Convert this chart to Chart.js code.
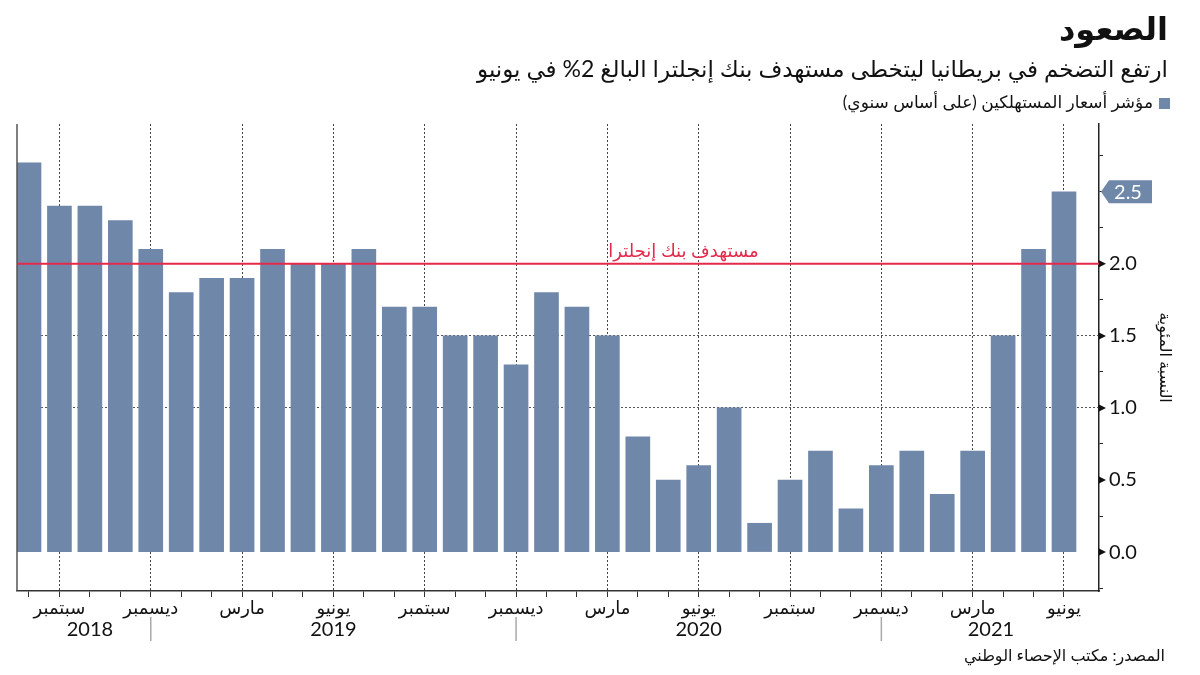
<!DOCTYPE html>
<html lang="ar">
<head>
<meta charset="utf-8">
<script src="https://cdn.jsdelivr.net/npm/chart.js@4.4.1/dist/chart.umd.min.js"></script>
<style>
  body { margin: 0; background: #fff; }
  .wrap { position: relative; width: 1200px; height: 675px; font-family: Lato, "DejaVu Sans", sans-serif; color: #111; }
  canvas { position: absolute; left: 0; top: 0; }
  .txt { position: absolute; direction: rtl; white-space: nowrap; }
  .title { right: 32px; top: 8px; font-size: 32px; font-weight: bold; }
  .subtitle { right: 32px; top: 54px; font-size: 23px; }
  .legend { right: 47px; top: 91px; font-size: 17px; }
  .swatch { position: absolute; right: 30px; top: 98px; width: 11px; height: 11px; background: #6f87a9; }
  .source { right: 35px; top: 645px; font-size: 16px; }
</style>
</head>
<body>
<div class="wrap">
  <canvas id="cpiChart" width="1200" height="675"></canvas>
  <div class="txt title">الصعود</div>
  <div class="txt subtitle">ارتفع التضخم في بريطانيا ليتخطى مستهدف بنك إنجلترا البالغ 2% في يونيو</div>
  <div class="swatch"></div>
  <div class="txt legend">مؤشر أسعار المستهلكين (على أساس سنوي)</div>
  <div class="txt source">المصدر: مكتب الإحصاء الوطني</div>
</div>
<script>
// months, Aug 2018 .. Jun 2021
const months = [
  "2018-08", "2018-09", "2018-10", "2018-11", "2018-12",
  "2019-01", "2019-02", "2019-03", "2019-04", "2019-05", "2019-06",
  "2019-07", "2019-08", "2019-09", "2019-10", "2019-11", "2019-12",
  "2020-01", "2020-02", "2020-03", "2020-04", "2020-05", "2020-06",
  "2020-07", "2020-08", "2020-09", "2020-10", "2020-11", "2020-12",
  "2021-01", "2021-02", "2021-03", "2021-04", "2021-05", "2021-06",
];
const cpi = [
  2.7, 2.4, 2.4, 2.3, 2.1,
  1.8, 1.9, 1.9, 2.1, 2.0, 2.0,
  2.1, 1.7, 1.7, 1.5, 1.5, 1.3,
  1.8, 1.7, 1.5, 0.8, 0.5, 0.6,
  1.0, 0.2, 0.5, 0.7, 0.3, 0.6,
  0.7, 0.4, 0.7, 1.5, 2.1, 2.5,
];
const quarterNames = { "03": "مارس", "06": "يونيو", "09": "سبتمبر", "12": "ديسمبر" };
const years = ["2018", "2019", "2020", "2021"];
const yearCenters = [2, 10, 22, 31.6];
const yearBreaks = [4, 16, 28];
const yTicks = [-0.25, 0, 0.25, 0.5, 0.75, 1, 1.25, 1.5, 1.75, 2, 2.25, 2.5, 2.75];
const yLabeled = [0, 0.5, 1, 1.5, 2];
const yGrid = [1, 1.5];
const target = 2.0;
const targetLabel = "مستهدف بنك إنجلترا";
const yTitle = "النسبة المئوية";

const barColor = "#6f87a9";
const red = "#e5294b";
const fontFam = 'Lato, "DejaVu Sans", sans-serif';

const isQuarter = (i) => quarterNames[months[i].slice(5)] !== undefined;

const overlay = {
  id: "overlay",
  afterDatasetsDraw(chart) {
    const { ctx, chartArea: a, scales: { x, y } } = chart;
    ctx.save();

    // left frame
    ctx.strokeStyle = "#555";
    ctx.lineWidth = 1.5;
    ctx.beginPath();
    ctx.moveTo(a.left, a.top);
    ctx.lineTo(a.left, a.bottom);
    ctx.stroke();

    // target line
    const ty = y.getPixelForValue(target);
    ctx.strokeStyle = red;
    ctx.lineWidth = 2;
    ctx.beginPath();
    ctx.moveTo(a.left, ty);
    ctx.lineTo(a.right, ty);
    ctx.stroke();
    ctx.fillStyle = red;
    ctx.font = "18px " + fontFam;
    ctx.textAlign = "center";
    ctx.textBaseline = "alphabetic";
    ctx.direction = "rtl";
    ctx.fillText(targetLabel, x.getPixelForValue(21.5), ty - 7);

    // tick pointers
    ctx.fillStyle = "#111";
    yLabeled.forEach((v) => {
      const py = y.getPixelForValue(v);
      ctx.beginPath();
      ctx.moveTo(a.right, py - 3.5);
      ctx.lineTo(a.right + 7, py);
      ctx.lineTo(a.right, py + 3.5);
      ctx.closePath();
      ctx.fill();
    });

    // latest value tag
    const last = cpi[cpi.length - 1];
    const vy = y.getPixelForValue(last);
    ctx.fillStyle = barColor;
    ctx.beginPath();
    ctx.moveTo(a.right + 2, vy);
    ctx.lineTo(a.right + 10, vy - 11.5);
    ctx.lineTo(a.right + 53, vy - 11.5);
    ctx.lineTo(a.right + 53, vy + 11.5);
    ctx.lineTo(a.right + 10, vy + 11.5);
    ctx.closePath();
    ctx.fill();
    ctx.fillStyle = "#fff";
    ctx.font = "20px " + fontFam;
    ctx.textAlign = "center";
    ctx.textBaseline = "middle";
    ctx.direction = "ltr";
    ctx.fillText(last.toFixed(1), a.right + 29, vy + 1);

    // year separators and labels
    ctx.strokeStyle = "#aaa";
    ctx.lineWidth = 1.5;
    yearBreaks.forEach((i) => {
      const px = x.getPixelForValue(i);
      ctx.beginPath();
      ctx.moveTo(px, a.bottom + 26);
      ctx.lineTo(px, a.bottom + 50);
      ctx.stroke();
    });
    ctx.fillStyle = "#111";
    ctx.font = "20px " + fontFam;
    years.forEach((yr, k) => {
      ctx.fillText(yr, x.getPixelForValue(yearCenters[k]), a.bottom + 39);
    });
    ctx.restore();
  },
};

new Chart(document.getElementById("cpiChart"), {
  type: "bar",
  data: {
    datasets: [
      {
        label: "مؤشر أسعار المستهلكين (على أساس سنوي)",
        data: cpi.map((v, i) => ({ x: i, y: v })),
        backgroundColor: barColor,
        barThickness: 24,
      },
    ],
  },
  options: {
    responsive: false,
    animation: false,
    layout: { padding: { top: 124, left: 17, right: 0, bottom: 0 } },
    plugins: {
      legend: { display: false },
      tooltip: { enabled: false },
    },
    scales: {
      x: {
        type: "linear",
        min: -0.394,
        max: 35.15,
        offset: false,
        afterBuildTicks: (s) => {
          s.ticks = months.map((m, i) => ({ value: i }));
        },
        afterFit: (s) => {
          s.height = 84;
        },
        ticks: {
          autoSkip: false,
          maxRotation: 0,
          padding: 0,
          color: "#111",
          font: { size: 18, family: fontFam },
          callback: (v) => quarterNames[months[v].slice(5)] || "",
        },
        grid: {
          offset: false,
          color: (c) => (c.tick && isQuarter(c.tick.value) ? "#444" : "transparent"),
          tickColor: "#333",
          tickLength: 6,
          lineWidth: 1,
        },
        border: { color: "#333", width: 1.5, dash: [2, 2] },
      },
      y: {
        type: "linear",
        position: "right",
        min: -0.27,
        max: 2.97,
        afterBuildTicks: (s) => {
          s.ticks = yTicks.map((v) => ({ value: v }));
        },
        afterFit: (s) => {
          s.width = 101;
        },
        ticks: {
          padding: 6,
          color: "#111",
          font: { size: 20, family: fontFam },
          callback: (v) => (yLabeled.includes(v) ? v.toFixed(1) : ""),
        },
        grid: {
          color: (c) => (c.tick && yGrid.includes(c.tick.value) ? "#555" : "transparent"),
          tickColor: "#222",
          tickLength: 4,
          lineWidth: 1,
        },
        border: { color: "#222", width: 1.5, dash: [2, 2] },
        title: {
          display: true,
          text: yTitle,
          color: "#111",
          font: { size: 16, family: fontFam },
          padding: { top: 25, bottom: 0 },
        },
      },
    },
  },
  plugins: [overlay],
});
</script>
</body>
</html>
